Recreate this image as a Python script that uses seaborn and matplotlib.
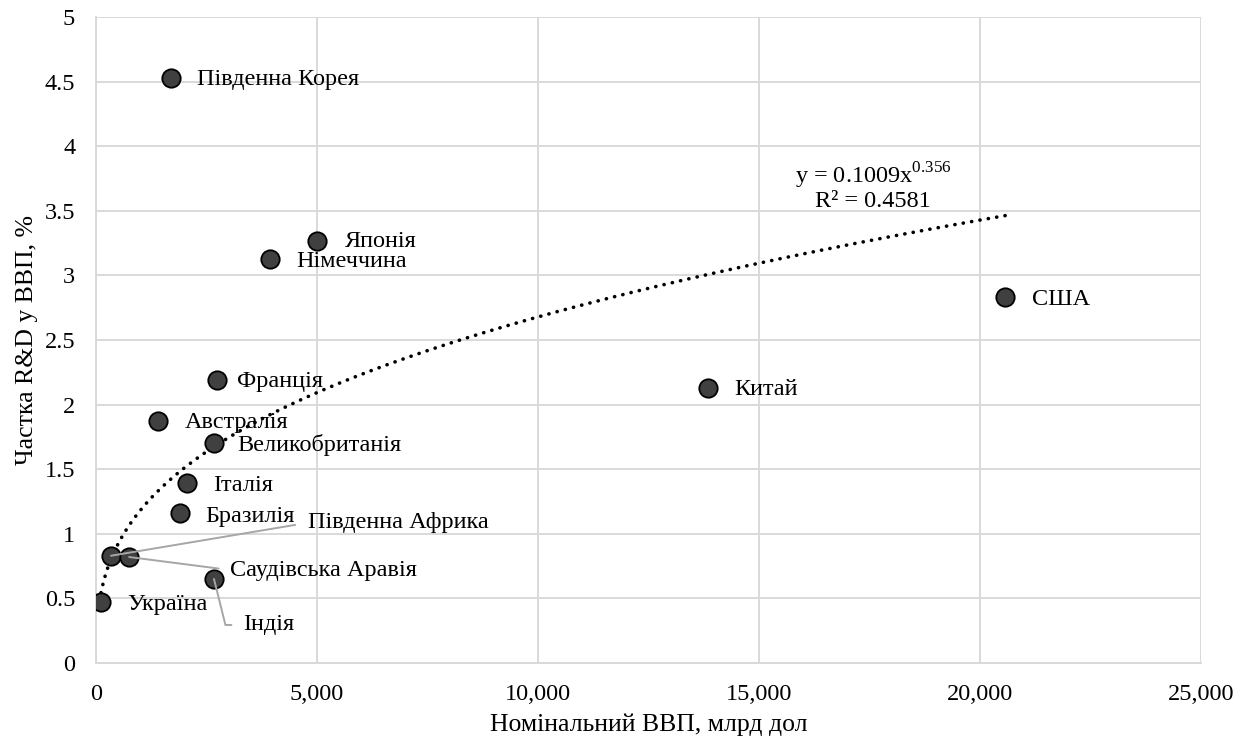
import numpy as np
import pandas as pd
import matplotlib
matplotlib.use("Agg")
import matplotlib.pyplot as plt
import seaborn as sns
from matplotlib.ticker import FuncFormatter, MultipleLocator

# ---- data ----
countries = ["Південна Корея", "Японія", "Німеччина", "США", "Китай", "Франція",
             "Австралія", "Великобританія", "Італія", "Бразилія",
             "Південна Африка", "Саудівська Аравія", "Індія", "Україна"]
gdp = [1700, 5000, 3940, 20570, 13850, 2740, 1400, 2670, 2060, 1900, 340, 750, 2670, 113]
rd_share = [4.53, 3.27, 3.13, 2.83, 2.13, 2.19, 1.87, 1.70, 1.39, 1.16, 0.83, 0.82, 0.65, 0.47]
trend_a = 0.1009
trend_b = 0.356
trend_r2 = 0.4581

df = pd.DataFrame({"country": countries, "gdp": gdp, "rd": rd_share})

sns.set_theme(style="whitegrid")
plt.rcParams["font.family"] = ["Liberation Serif", "DejaVu Serif"]
plt.rcParams["mathtext.fontset"] = "custom"
plt.rcParams["mathtext.rm"] = "Liberation Serif"
plt.rcParams["text.color"] = "black"

FS = 17.5
FS_AX = 18.5
GRID = "#d9d9d9"

fig = plt.figure(figsize=(12.48, 7.46), dpi=100)
ax = fig.add_axes([0.0769, 0.1113, 0.8854, 0.8659])

# trend line (power fit shown on chart)
xs = np.linspace(min(gdp), max(gdp), 400)
ax.plot(xs, trend_a * xs ** trend_b, color="black", lw=2.6,
        linestyle=(0, (0.05, 2.3)), dash_capstyle="round", zorder=2)

sns.scatterplot(data=df, x="gdp", y="rd", ax=ax, s=175, color="#404040",
                edgecolor="black", linewidth=1.3, zorder=3, legend=False)

ax.set_xlim(0, 25000)
ax.set_ylim(0, 5)
ax.xaxis.set_major_locator(MultipleLocator(5000))
ax.yaxis.set_major_locator(MultipleLocator(0.5))
ax.xaxis.set_major_formatter(FuncFormatter(lambda v, p: f"{int(v):,}"))
ax.yaxis.set_major_formatter(FuncFormatter(lambda v, p: f"{v:g}"))
ax.grid(True, color=GRID, lw=1.4)
for s in ax.spines.values():
    s.set_visible(False)
for side in ("left", "bottom"):
    ax.spines[side].set_visible(True)
    ax.spines[side].set_color(GRID)
    ax.spines[side].set_linewidth(1.4)
ax.tick_params(axis="both", length=0, labelsize=FS, colors="black")
ax.tick_params(axis="x", pad=15)
ax.tick_params(axis="y", pad=15)

ax.set_xlabel("Номінальний ВВП, млрд дол", fontsize=FS_AX, color="black", labelpad=6)
ax.set_ylabel("Частка R&D у ВВП, %", fontsize=FS_AX, color="black", labelpad=5)

# direct labels (pixel offsets)
offsets = {
    "Південна Корея": (26, -2), "Японія": (28, -1), "Німеччина": (26, -3),
    "США": (27, -2), "Китай": (26, -2), "Франція": (20, -1),
    "Австралія": (27, -1), "Великобританія": (23, -2), "Італія": (26, -2),
    "Бразилія": (25, -3), "Україна": (26, -2),
}
for c, x, y in zip(countries, gdp, rd_share):
    if c in offsets:
        dx, dy = offsets[c]
        ax.annotate(c, (x, y), xytext=(dx, dy), textcoords="offset pixels",
                    ha="left", va="center", fontsize=FS, color="black", zorder=4)

lead = dict(arrowstyle="-", color="#a6a6a6", lw=1.4, shrinkB=0, relpos=(0, 0.5))
ax.annotate("Південна Африка", (gdp[10], rd_share[10]), xytext=(197, 33),
            textcoords="offset pixels", ha="left", va="center", fontsize=FS,
            color="black", arrowprops=dict(lead, shrinkA=7), zorder=4)
ax.annotate("Саудівська Аравія", (gdp[11], rd_share[11]), xytext=(101, -13),
            textcoords="offset pixels", ha="left", va="center", fontsize=FS,
            color="black", arrowprops=dict(lead, shrinkA=6), zorder=4)
ax.annotate("Індія", (gdp[12], rd_share[12]), xytext=(29, -46),
            textcoords="offset pixels", ha="left", va="center", fontsize=FS,
            color="black",
            arrowprops=dict(lead, shrinkA=6,
                            connectionstyle="angle,angleA=0,angleB=-76,rad=0"),
            zorder=4)

# equation
ax.text(17580, 3.77, r"y = 0.1009x$^{\mathregular{0.356}}$", ha="center",
        va="center", fontsize=FS, color="black")
ax.text(17580, 3.575, f"R² = {trend_r2}", ha="center", va="center",
        fontsize=FS, color="black")

fig.savefig("out.png", dpi=100, facecolor="white")
